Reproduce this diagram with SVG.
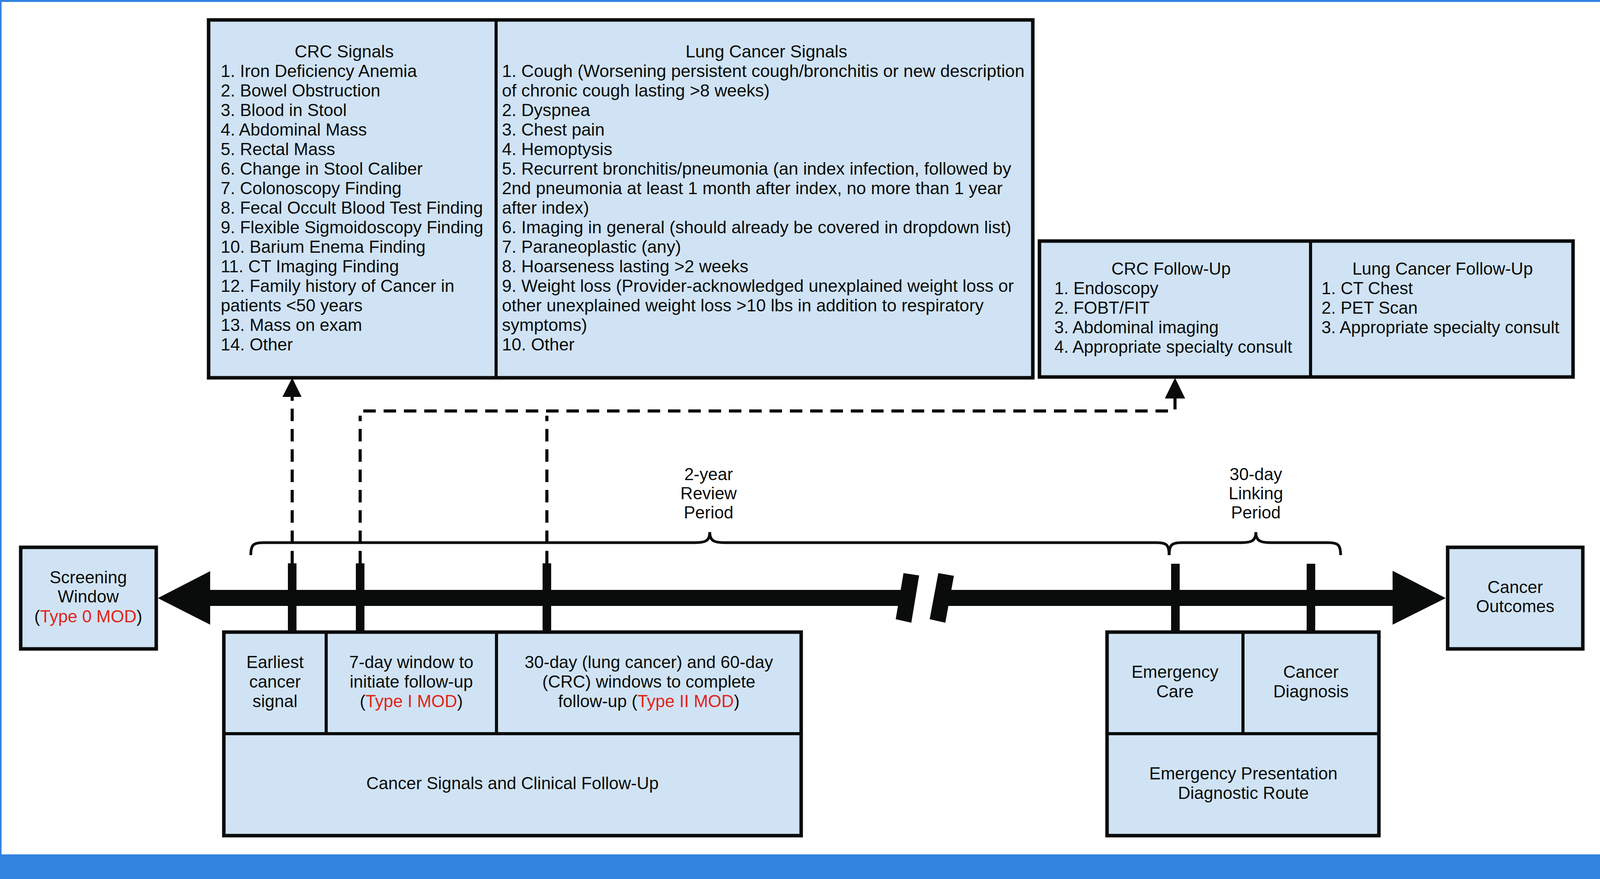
<svg xmlns="http://www.w3.org/2000/svg" width="4104" height="2250" viewBox="0 0 4104 2250">
<style>
.box{fill:#D0E3F4;stroke:#0A0C0B;stroke-width:9}
.div{stroke:#0A0C0B;stroke-width:8;fill:none}
.t{font-family:"Liberation Sans",Arial,sans-serif;font-size:44px;fill:#0A0C0B}
.crc{font-size:44.3px}
.lung{font-size:44.6px}
.c{text-anchor:middle}
.red{fill:#E2231A}
.dash{stroke:#0A0C0B;stroke-width:8;fill:none;stroke-dasharray:32 20}
.solid{fill:#0A0C0B}
.brace{stroke:#0A0C0B;stroke-width:7;fill:none}
</style>
<rect x="0" y="0" width="4104" height="2250" fill="#FFFFFF"/>
<g id="frame">
<rect x="0" y="0" width="4104" height="5" fill="#3383E0"/>
<rect x="0" y="0" width="4" height="2250" fill="#3383E0"/>
<rect x="4098" y="0" width="6" height="2250" fill="#3383E0"/>
<rect x="0" y="2187" width="4104" height="63" fill="#3383E0"/>
</g>

<g id="signals">
<rect class="box" x="534" y="51" width="2110" height="916"/>
<line class="div" x1="1270" y1="51" x2="1270" y2="967"/>
<g id="crc-signals">
<text class="t crc c" x="881" y="147">CRC Signals</text>
<text class="t crc" x="565" y="197">1. Iron Deficiency Anemia</text>
<text class="t crc" x="565" y="247">2. Bowel Obstruction</text>
<text class="t crc" x="565" y="297">3. Blood in Stool</text>
<text class="t crc" x="565" y="347">4. Abdominal Mass</text>
<text class="t crc" x="565" y="397">5. Rectal Mass</text>
<text class="t crc" x="565" y="447">6. Change in Stool Caliber</text>
<text class="t crc" x="565" y="497">7. Colonoscopy Finding</text>
<text class="t crc" x="565" y="547">8. Fecal Occult Blood Test Finding</text>
<text class="t crc" x="565" y="597">9. Flexible Sigmoidoscopy Finding</text>
<text class="t crc" x="565" y="647">10. Barium Enema Finding</text>
<text class="t crc" x="565" y="697">11. CT Imaging Finding</text>
<text class="t crc" x="565" y="747">12. Family history of Cancer in</text>
<text class="t crc" x="565" y="797">patients &lt;50 years</text>
<text class="t crc" x="565" y="847">13. Mass on exam</text>
<text class="t crc" x="565" y="897">14. Other</text>
</g>
<g id="lung-signals">
<text class="t lung c" x="1962" y="147">Lung Cancer Signals</text>
<text class="t lung" x="1285" y="197">1. Cough (Worsening persistent cough/bronchitis or new description</text>
<text class="t lung" x="1285" y="247">of chronic cough lasting &gt;8 weeks)</text>
<text class="t lung" x="1285" y="297">2. Dyspnea</text>
<text class="t lung" x="1285" y="347">3. Chest pain</text>
<text class="t lung" x="1285" y="397">4. Hemoptysis</text>
<text class="t lung" x="1285" y="447">5. Recurrent bronchitis/pneumonia (an index infection, followed by</text>
<text class="t lung" x="1285" y="497">2nd pneumonia at least 1 month after index, no more than 1 year</text>
<text class="t lung" x="1285" y="547">after index)</text>
<text class="t lung" x="1285" y="597">6. Imaging in general (should already be covered in dropdown list)</text>
<text class="t lung" x="1285" y="647">7. Paraneoplastic (any)</text>
<text class="t lung" x="1285" y="697">8. Hoarseness lasting &gt;2 weeks</text>
<text class="t lung" x="1285" y="747">9. Weight loss (Provider-acknowledged unexplained weight loss or</text>
<text class="t lung" x="1285" y="797">other unexplained weight loss &gt;10 lbs in addition to respiratory</text>
<text class="t lung" x="1285" y="847">symptoms)</text>
<text class="t lung" x="1285" y="897">10. Other</text>
</g>
</g>

<g id="followup">
<rect class="box" x="2661" y="617" width="1366" height="348"/>
<line class="div" x1="3355" y1="617" x2="3355" y2="965"/>
<g id="crc-followup">
<text class="t c" x="2998" y="703">CRC Follow-Up</text>
<text class="t" x="2699" y="753">1. Endoscopy</text>
<text class="t" x="2699" y="803">2. FOBT/FIT</text>
<text class="t" x="2699" y="853">3. Abdominal imaging</text>
<text class="t" x="2699" y="903">4. Appropriate specialty consult</text>
</g>
<g id="lung-followup">
<text class="t c" x="3693" y="703">Lung Cancer Follow-Up</text>
<text class="t" x="3383" y="753">1. CT Chest</text>
<text class="t" x="3383" y="803">2. PET Scan</text>
<text class="t" x="3383" y="853">3. Appropriate specialty consult</text>
</g>
</g>

<g id="screening-window">
<rect class="box" x="53" y="1401" width="347" height="260"/>
<text class="t c" x="226" y="1493">Screening</text>
<text class="t c" x="226" y="1542">Window</text>
<text class="t c" x="226" y="1593">(<tspan class="red">Type 0 MOD</tspan>)</text>
</g>

<g id="cancer-outcomes">
<rect class="box" x="3706" y="1401" width="346" height="260"/>
<text class="t c" x="3879" y="1518">Cancer</text>
<text class="t c" x="3879" y="1567">Outcomes</text>
</g>

<g id="signals-followup">
<rect class="box" x="573" y="1618" width="1478" height="521"/>
<line class="div" x1="573" y1="1878" x2="2051" y2="1878"/>
<line class="div" x1="835" y1="1618" x2="835" y2="1878"/>
<line class="div" x1="1271" y1="1618" x2="1271" y2="1878"/>
<text class="t c" x="704" y="1710">Earliest</text>
<text class="t c" x="704" y="1760">cancer</text>
<text class="t c" x="704" y="1810">signal</text>
<text class="t c" x="1053" y="1710">7-day window to</text>
<text class="t c" x="1053" y="1760">initiate follow-up</text>
<text class="t c" x="1053" y="1810">(<tspan class="red">Type I MOD</tspan>)</text>
<text class="t c" x="1661" y="1710">30-day (lung cancer) and 60-day</text>
<text class="t c" x="1661" y="1760">(CRC) windows to complete</text>
<text class="t c" x="1661" y="1810">follow-up (<tspan class="red">Type II MOD</tspan>)</text>
<text class="t c" x="1312" y="2020">Cancer Signals and Clinical Follow-Up</text>
</g>

<g id="emergency-route">
<rect class="box" x="2834" y="1618" width="696" height="521"/>
<line class="div" x1="2834" y1="1878" x2="3530" y2="1878"/>
<line class="div" x1="3182" y1="1618" x2="3182" y2="1878"/>
<text class="t c" x="3008" y="1735">Emergency</text>
<text class="t c" x="3008" y="1785">Care</text>
<text class="t c" x="3356" y="1735">Cancer</text>
<text class="t c" x="3356" y="1785">Diagnosis</text>
<text class="t c" x="3183" y="1995">Emergency Presentation</text>
<text class="t c" x="3183" y="2045">Diagnostic Route</text>
</g>

<g id="period-labels">
<text class="t c" x="1814" y="1229">2-year</text>
<text class="t c" x="1814" y="1278">Review</text>
<text class="t c" x="1814" y="1327">Period</text>
<text class="t c" x="3215" y="1229">30-day</text>
<text class="t c" x="3215" y="1278">Linking</text>
<text class="t c" x="3215" y="1327">Period</text>
</g>

<g id="timeline">
<rect class="solid" x="536" y="1510" width="1780" height="41"/>
<polygon class="solid" points="404,1531 538,1462 538,1599"/>
<rect class="solid" x="2425" y="1510" width="1142" height="41"/>
<polygon class="solid" points="3701,1531 3565,1461 3565,1599"/>
<polygon class="solid" points="2313,1467 2353,1473 2333,1594 2293,1585"/>
<polygon class="solid" points="2402,1467 2442,1474 2420,1594 2380,1585"/>
<rect class="solid" x="737" y="1442" width="22" height="174"/>
<rect class="solid" x="911" y="1442" width="22" height="174"/>
<rect class="solid" x="1389" y="1442" width="22" height="174"/>
<rect class="solid" x="2998" y="1443" width="22" height="173"/>
<rect class="solid" x="3345" y="1443" width="22" height="173"/>
</g>

<g id="connectors">
<path class="brace" d="M642,1421 C642,1395 648,1389 675,1389 H1780 C1805,1389 1817,1385 1817,1362 C1817,1385 1829,1389 1854,1389 H2960 C2987,1389 2993,1395 2993,1421"/>
<path class="brace" d="M2993,1421 C2993,1395 2999,1389 3026,1389 H3178 C3203,1389 3215,1385 3215,1362 C3215,1385 3227,1389 3252,1389 H3399 C3426,1389 3432,1395 3432,1421"/>
<line class="dash" x1="748" y1="1442" x2="748" y2="1016"/>
<polygon class="solid" points="748,967 723,1016 772,1016"/>
<line class="dash" x1="922" y1="1442" x2="922" y2="1064"/>
<line class="dash" x1="1400" y1="1442" x2="1400" y2="1064"/>
<line class="dash" x1="930" y1="1052" x2="3000" y2="1052"/>
<path d="M3008,1048 V1016" stroke="#0A0C0B" stroke-width="8" fill="none"/>
<polygon class="solid" points="3008,967 2982,1020 3034,1020"/>
</g>
</svg>
